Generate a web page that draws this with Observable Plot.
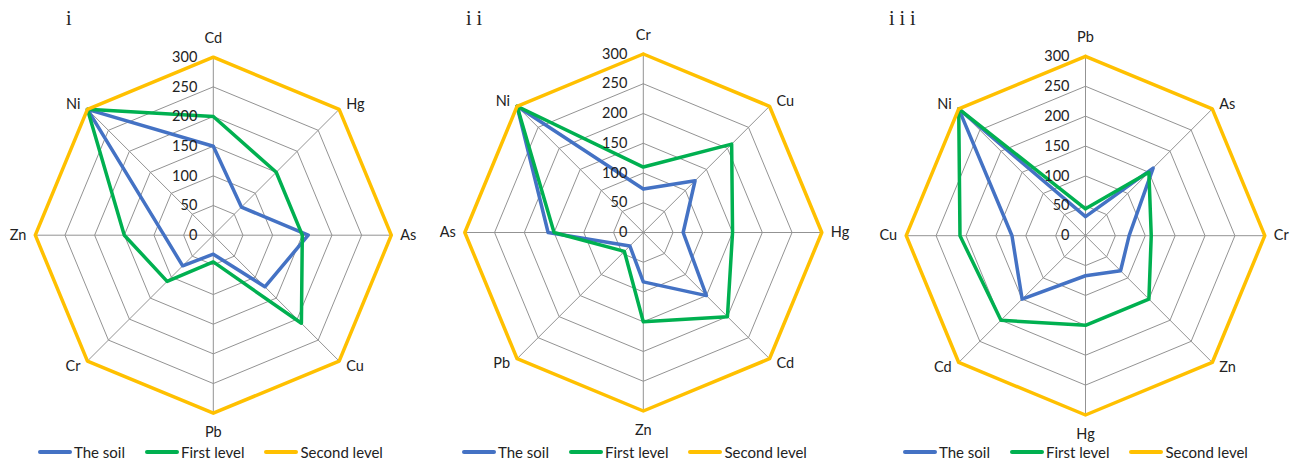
<!DOCTYPE html>
<html>
<head>
<meta charset="utf-8">
<script src="https://cdn.jsdelivr.net/npm/d3@7"></script>
<script src="https://cdn.jsdelivr.net/npm/@observablehq/plot@0.6"></script>
<style>
  body { margin: 0; background: #fff; }
  #wrap { position: relative; width: 1295px; height: 462px; overflow: hidden; font-family: Lato, sans-serif; }
  .panel { position: absolute; top: 0; }
  .tag { position: absolute; top: 8px; font-family: "Liberation Serif", serif; font-size: 20px; line-height: 20px; letter-spacing: 5px; color: #222; }
  .legend { position: absolute; top: 443px; display: flex; align-items: center; font-size: 15px; line-height: 18px; color: #222; }
  .legend .item { display: flex; align-items: center; margin-right: 20px; }
  .legend .sw { width: 34px; height: 4px; margin-right: 2px; border-radius: 2px; }
</style>
</head>
<body>
<div id="wrap"></div>
<script>
// Radial scale ticks (concentric octagons)
const ticks = [0, 50, 100, 150, 200, 250, 300];

// Heavy-metal values per element
const elements = ["Cd", "Hg", "As", "Cu", "Pb", "Cr", "Zn", "Ni"];
const soilValues = [150, 67, 160, 123, 32, 73, 83, 300];
const firstLevelValues = [200, 150, 150, 210, 45, 110, 150, 300];
const secondLevelValues = [300, 300, 300, 300, 300, 300, 300, 300];

// Clockwise axis order (from the top) for each panel
const orderI = ["Cd", "Hg", "As", "Cu", "Pb", "Cr", "Zn", "Ni"];
const orderII = ["Cr", "Cu", "Hg", "Cd", "Zn", "Pb", "As", "Ni"];
const orderIII = ["Pb", "As", "Cr", "Zn", "Hg", "Cd", "Cu", "Ni"];

const panelNames = ["i", "ii", "iii"];
const seriesNames = ["The soil", "First level", "Second level"];
const seriesColors = ["#4472C4", "#00B050", "#FFC000"];

// Panel layout: left offset, width, and margins that place the radar centre
const layouts = [
  {left: 0,   width: 430, mL: 34.8, mR: 39.2, mT: 56.7, mB: 25.3, tag: 66,  legend: 38},
  {left: 430, width: 430, mL: 34.3, mR: 38.7, mT: 53.5, mB: 27.5, tag: 466, legend: 462},
  {left: 860, width: 435, mL: 45.7, mR: 30.7, mT: 55.9, mB: 23.5, tag: 889, legend: 903}
];
const H = 438;
const orders = [orderI, orderII, orderIII];
const seriesValues = [soilValues, firstLevelValues, secondLevelValues];

const valueOf = (series, el) => seriesValues[series][elements.indexOf(el)];
const polar = (r, k) => {
  const a = (2 * Math.PI * k) / 8;
  return {x: r * Math.sin(a), y: r * Math.cos(a)};
};

const wrap = document.getElementById("wrap");

orders.forEach((order, p) => {
  const L = layouts[p];

  // concentric grid octagons
  const grid = [];
  ticks.slice(1).forEach(t => {
    for (let k = 0; k <= 8; k++) grid.push({t, ...polar(t, k % 8)});
  });

  // spokes
  const spokes = order.map((el, k) => ({el, ...polar(300, k)}));

  // series polygons (closed)
  const lines = [];
  [0, 1, 2].forEach(s => {
    for (let k = 0; k <= 8; k++) {
      const el = order[k % 8];
      lines.push({series: seriesNames[s], ...polar(valueOf(s, el), k % 8)});
    }
  });

  // element labels around the rim, one mark per direction
  const labelMarks = order.map((el, k) => {
    const a = (2 * Math.PI * k) / 8;
    const s = Math.sin(a), c = Math.cos(a);
    let opts;
    if (Math.abs(s) < 0.01) opts = {textAnchor: "middle", dx: 0, dy: c > 0 ? -19 : 19};
    else if (Math.abs(c) < 0.01) opts = {textAnchor: s > 0 ? "start" : "end", dx: s > 0 ? 9 : -9, dy: 0};
    else opts = {textAnchor: s > 0 ? "start" : "end", dx: s > 0 ? 7 : -7, dy: c > 0 ? -5 : 5};
    return Plot.text([{el, ...polar(300, k)}], {x: "x", y: "y", text: "el", fill: "#222", fontSize: 14.5, ...opts});
  });

  const chart = Plot.plot({
    width: L.width,
    height: H,
    marginLeft: L.mL,
    marginRight: L.mR,
    marginTop: L.mT,
    marginBottom: L.mB,
    x: {domain: [-300, 300], axis: null},
    y: {domain: [-300, 300], axis: null},
    color: {domain: seriesNames, range: seriesColors},
    style: {fontFamily: "Lato, sans-serif", fontSize: "14px", color: "#222", overflow: "visible", background: "transparent"},
    marks: [
      Plot.line(grid, {x: "x", y: "y", z: "t", stroke: "#939393", strokeWidth: 1}),
      Plot.link(spokes, {x1: 0, y1: 0, x2: "x", y2: "y", stroke: "#939393", strokeWidth: 1}),
      Plot.line(lines, {x: "x", y: "y", z: "series", stroke: "series", strokeWidth: 3.5, strokeLinejoin: "round"}),
      Plot.text(ticks, {x: 0, y: d => d, text: d => String(d), textAnchor: "end", dx: -16, fill: "#222", fontSize: 14.5}),
      ...labelMarks
    ]
  });
  chart.classList.add("panel");
  chart.style.left = L.left + "px";
  wrap.appendChild(chart);

  const tag = document.createElement("div");
  tag.className = "tag";
  tag.style.left = L.tag + "px";
  tag.textContent = panelNames[p];
  wrap.appendChild(tag);

  const legend = document.createElement("div");
  legend.className = "legend";
  legend.style.left = L.legend + "px";
  seriesNames.forEach((name, s) => {
    const item = document.createElement("div");
    item.className = "item";
    const sw = document.createElement("span");
    sw.className = "sw";
    sw.style.background = seriesColors[s];
    const label = document.createElement("span");
    label.textContent = name;
    item.appendChild(sw);
    item.appendChild(label);
    legend.appendChild(item);
  });
  wrap.appendChild(legend);
});
</script>
</body>
</html>
